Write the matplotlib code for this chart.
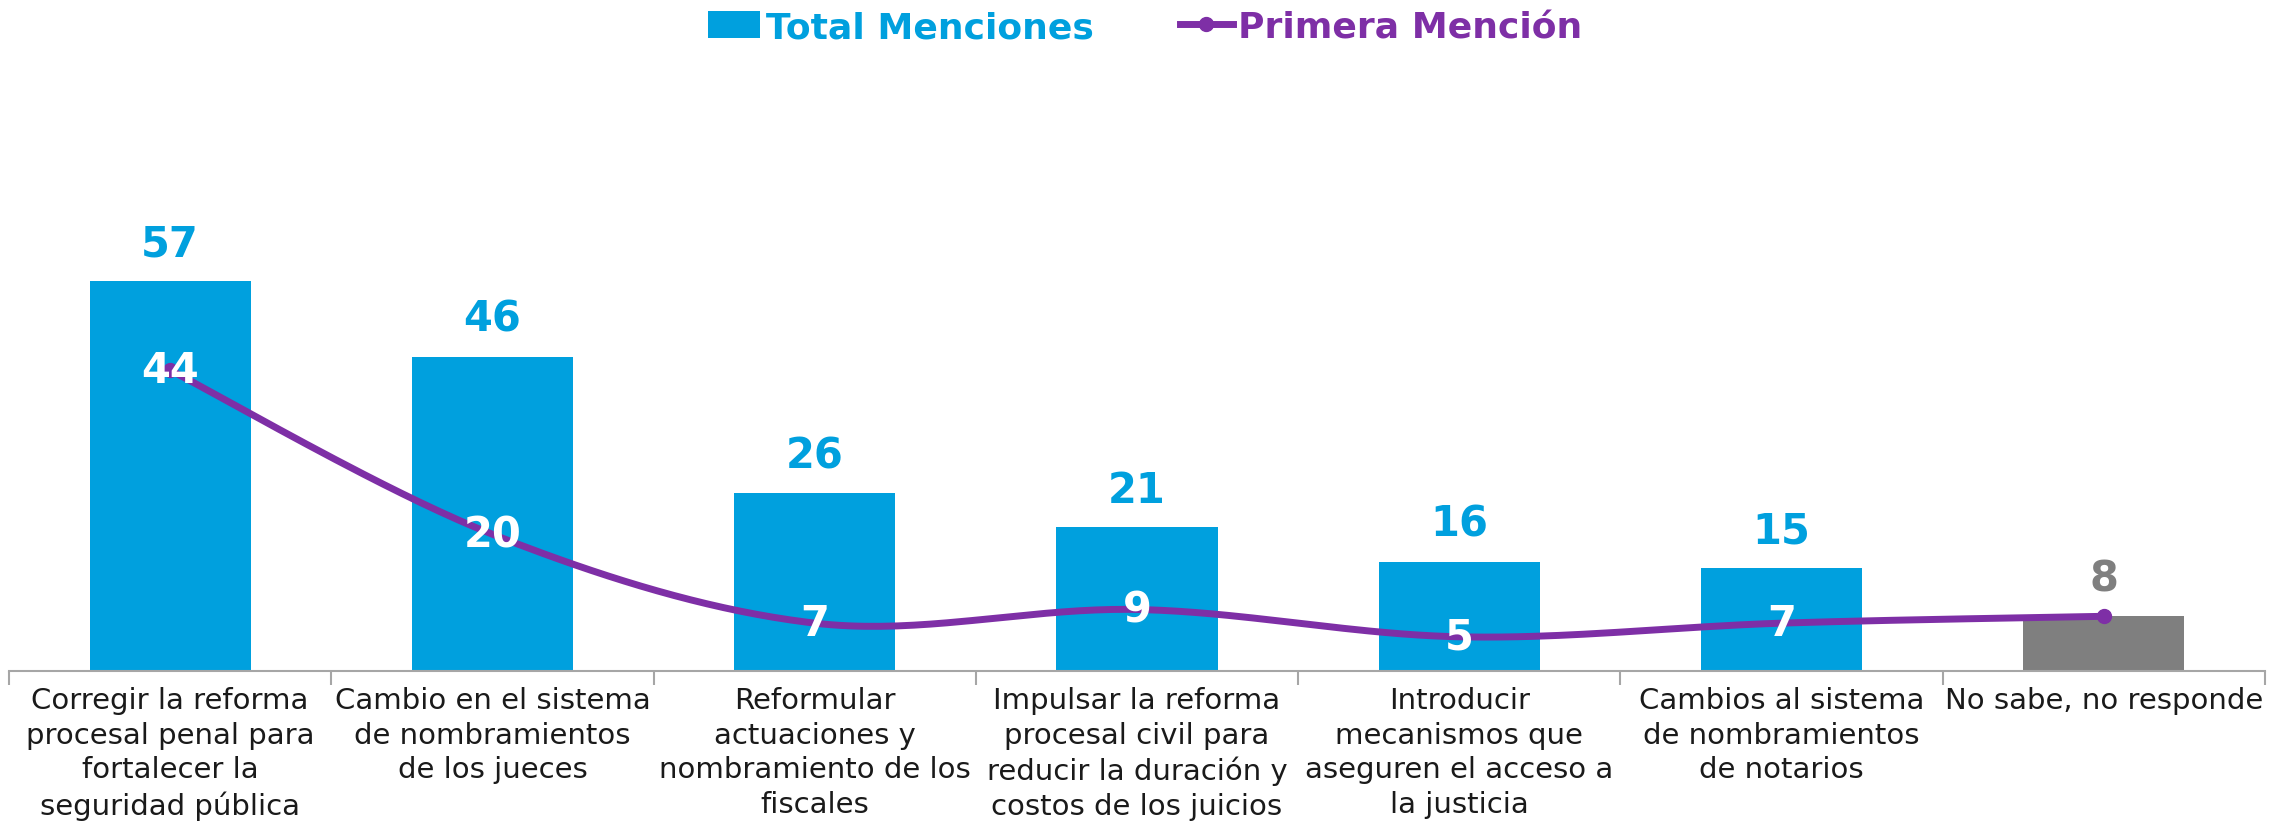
import numpy as np
import matplotlib
matplotlib.use("Agg")
import matplotlib.pyplot as plt
from matplotlib.patches import Patch
from matplotlib.lines import Line2D

plt.rcParams["font.family"] = ["DejaVu Sans"]

categorias = [
    "Corregir la reforma\nprocesal penal para\nfortalecer la\nseguridad pública",
    "Cambio en el sistema\nde nombramientos\nde los jueces",
    "Reformular\nactuaciones y\nnombramiento de los\nfiscales",
    "Impulsar la reforma\nprocesal civil para\nreducir la duración y\ncostos de los juicios",
    "Introducir\nmecanismos que\naseguren el acceso a\nla justicia",
    "Cambios al sistema\nde nombramientos\nde notarios",
    "No sabe, no responde",
]
total_menciones = [57, 46, 26, 21, 16, 15, 8]
primera_mencion = [44, 20, 7, 9, 5, 7, 8]

AZUL = "#00A0DE"
MORADO = "#7E2FA6"
GRIS = "#7F7F7F"


def suavizar(xs, ys, n=40):
    # curva suavizada tipo Excel (bezier con tangentes catmull-rom)
    pts = np.column_stack([xs, ys]).astype(float)
    pts = np.vstack([pts[0], pts, pts[-1]])
    out = []
    t = np.linspace(0, 1, n)[:, None]
    for i in range(len(xs) - 1):
        p0, p1, p2, p3 = pts[i], pts[i + 1], pts[i + 2], pts[i + 3]
        c1 = p1 + (p2 - p0) / 6
        c2 = p2 - (p3 - p1) / 6
        seg = (1 - t) ** 3 * p1 + 3 * (1 - t) ** 2 * t * c1 + 3 * (1 - t) * t ** 2 * c2 + t ** 3 * p2
        out.append(seg)
    out = np.vstack(out)
    return out[:, 0], out[:, 1]


fig = plt.figure(figsize=(22.9, 8.28), dpi=100)
ax = fig.add_axes([9 / 2290, 1 - 672 / 828, (2265 - 9) / 2290, 0.578])

x = np.arange(len(categorias))
colores = [AZUL] * (len(x) - 1) + [GRIS]
bars = ax.bar(x, total_menciones, width=0.5, color=colores, zorder=2)

for xi, v, c in zip(x, total_menciones, colores):
    ax.annotate(str(v), (xi, v), xytext=(0, 12), textcoords="offset points",
                ha="center", va="bottom", fontsize=30, fontweight="bold", color=c)

sx, sy = suavizar(x, primera_mencion)
ax.plot(sx, sy, color=MORADO, lw=5, zorder=3, solid_capstyle="round")
ax.plot(x[0], primera_mencion[0], "o", color=MORADO, ms=10, zorder=3)
ax.plot(x[-1], primera_mencion[-1], "o", color=MORADO, ms=10, zorder=3)

for xi, v in zip(x[:-1], primera_mencion[:-1]):
    ax.text(xi, v, str(v), ha="center", va="center", fontsize=30,
            fontweight="bold", color="white", zorder=4)

ax.set_xlim(-0.5, len(x) - 0.5)
ax.set_ylim(0, 70)
ax.set_xticks(x)
ax.set_xticklabels(categorias, fontsize=21, linespacing=1.3, color="#1A1A1A")
ax.set_xticks(np.arange(-0.5, len(x), 1), minor=True)
ax.tick_params(axis="x", which="major", length=0, pad=11)
ax.tick_params(axis="x", which="minor", length=10, width=1.5, color="#A6A6A6")
ax.set_yticks([])
for s in ["top", "right", "left"]:
    ax.spines[s].set_visible(False)
ax.spines["bottom"].set_color("#A6A6A6")
ax.spines["bottom"].set_linewidth(1.5)

handles = [
    Patch(facecolor=AZUL, label="Total Menciones"),
    Line2D([0], [0], color=MORADO, lw=5, marker="o", ms=10, label="Primera Mención"),
]
leg = fig.legend(handles=handles, loc="center", bbox_to_anchor=(0.5, 0.966), ncol=2,
                 frameon=False, prop={"size": 26, "weight": "bold"},
                 handlelength=1.45, handleheight=0.75, handletextpad=0.15,
                 columnspacing=2.4)
for txt, c in zip(leg.get_texts(), [AZUL, MORADO]):
    txt.set_color(c)

fig.savefig("out.png", dpi=100)
